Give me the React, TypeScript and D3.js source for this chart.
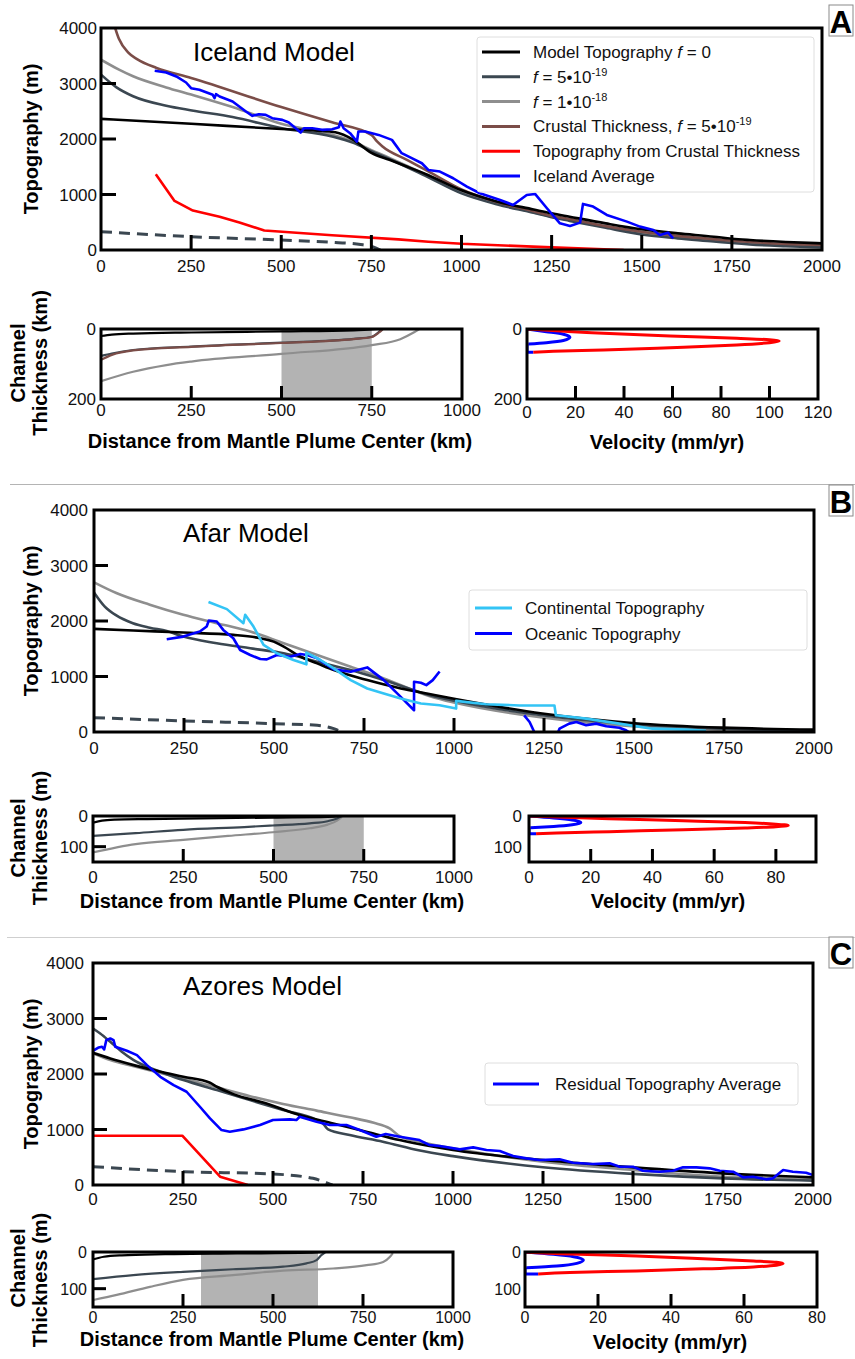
import React from 'react';
import * as d3 from 'd3';

type P = [number, number];

const FONT = "'Liberation Sans', Arial, Helvetica, sans-serif";
const C_BLACK = '#000000';
const C_SLATE = '#3b4751';
const C_GRAY = '#8e8e8e';
const C_BROWN = '#7b4d48';
const C_RED = '#ff0000';
const C_BLUE = '#0000ff';
const C_CYAN = '#33c4f5';

// ---------- shared ticks ----------
const topXTicks = [0, 250, 500, 750, 1000, 1250, 1500, 1750, 2000];
const topYTicks = [0, 1000, 2000, 3000, 4000];
const chanXTicks = [0, 250, 500, 750, 1000];

// ---------- Panel A : Iceland ----------
const iceF0: P[] = [[0, 2363], [250, 2275], [500, 2180], [600, 2150], [650, 2120], [700, 1985], [750, 1750], [800, 1625], [850, 1500], [900, 1370], [1000, 1075], [1100, 870], [1200, 730], [1250, 661], [1300, 600], [1400, 480], [1500, 373], [1600, 300], [1700, 240], [1750, 204], [1800, 180], [1900, 145], [2000, 120]];
const iceF5: P[] = [[0, 3160], [43, 2930], [89, 2770], [181, 2600], [252, 2515], [365, 2395], [502, 2195], [641, 2045], [700, 1930], [750, 1780], [800, 1640], [900, 1335], [1000, 1020], [1100, 820], [1200, 670], [1250, 590], [1300, 525], [1400, 400], [1500, 280], [1600, 210], [1700, 155], [1750, 125], [1800, 100], [1900, 70], [2000, 48]];
const iceF10: P[] = [[0, 3430], [50, 3250], [89, 3130], [181, 2930], [250, 2800], [365, 2575], [500, 2275], [641, 2075], [700, 1950], [750, 1800], [800, 1660], [900, 1360], [1000, 1035], [1100, 840], [1200, 680], [1250, 600], [1300, 540], [1400, 420], [1500, 305], [1600, 230], [1700, 170], [1750, 145], [1800, 125], [1900, 95], [2000, 72]];
const iceCrust: P[] = [[30, 4200], [50, 3800], [75, 3560], [100, 3440], [154, 3280], [250, 3100], [500, 2575], [641, 2300], [750, 2075], [765, 1960], [780, 1870], [850, 1620], [908, 1415], [1000, 1090], [1100, 860], [1200, 700], [1250, 615], [1300, 560], [1400, 430], [1500, 330], [1600, 255], [1700, 195], [1750, 168], [1800, 145], [1900, 110], [2000, 90]];
const iceCrustTopo: P[] = [[152, 1365], [204, 885], [255, 710], [329, 600], [384, 495], [453, 350], [641, 265], [825, 192], [908, 150], [1000, 112], [1250, 48], [1450, 0]];
const iceDashed: P[] = [[0, 330], [250, 240], [500, 180], [650, 135], [720, 100], [755, 55], [775, 0]];
const iceAverage: P[] = [[149, 3229], [181, 3199], [209, 3127], [236, 3018], [250, 2916], [273, 2886], [310, 2796], [315, 2736], [319, 2808], [329, 2766], [365, 2676], [402, 2495], [420, 2417], [438, 2447], [457, 2435], [475, 2375], [503, 2345], [521, 2297], [540, 2195], [554, 2117], [563, 2195], [586, 2195], [613, 2165], [641, 2177], [660, 2213], [664, 2315], [673, 2195], [691, 2105], [710, 1954], [714, 2135], [733, 2135], [770, 2074], [807, 1984], [834, 1744], [862, 1654], [890, 1563], [908, 1443], [940, 1413], [977, 1293], [1015, 1142], [1051, 1022], [1107, 902], [1143, 812], [1181, 992], [1204, 1010], [1237, 752], [1273, 481], [1301, 433], [1329, 493], [1337, 830], [1365, 782], [1403, 631], [1459, 511], [1495, 421], [1532, 361], [1550, 271], [1573, 313], [1587, 210]];

const iceChanF0: P[] = [[0, 20], [30, 16], [89, 13], [250, 10], [500, 7], [700, 4], [770, 0]];
const iceChanF5: P[] = [[0, 77], [30, 70], [89, 60], [250, 50], [500, 39], [700, 28], [750, 22], [768, 10], [777, 1]];
const iceChanCrust: P[] = [[0, 88], [30, 74], [89, 61], [250, 51], [500, 40], [700, 29], [750, 23], [770, 10], [780, 1]];
const iceChanF10: P[] = [[0, 149], [89, 122], [181, 103], [250, 93], [500, 71], [750, 46], [829, 29], [866, 10], [882, 0]];

const iceVelRed: P[] = [[0, 0], [31.5, 12.4], [59, 20], [86.5, 26.7], [100, 30.5], [104, 34], [100, 39], [86.5, 45.7], [59, 53.3], [31.5, 60], [10.9, 63.8], [2.6, 66.7]];
const iceVelBlue: P[] = [[0, 0], [8, 7.6], [15, 15], [17.7, 23.8], [15, 33], [8, 39], [0.6, 42.8]];
const iceVelBlueTail: P[] = [[0.6, 42.8], [0, 44], [0, 66.7], [2.6, 66.7]];

// ---------- Panel B : Afar ----------
const afarF0: P[] = [[0, 1858], [109, 1828], [248, 1792], [387, 1750], [462, 1690], [499, 1629], [527, 1540], [573, 1360], [620, 1237], [666, 1116], [759, 935], [852, 784], [935, 680], [1000, 600], [1245, 332], [1495, 163], [1745, 78], [2000, 42]];
const afarF5: P[] = [[0, 2516], [30, 2260], [62, 2100], [108, 1960], [155, 1880], [202, 1820], [248, 1719], [341, 1600], [434, 1508], [527, 1418], [620, 1267], [713, 1116], [805, 935], [935, 660], [1000, 565], [1245, 302], [1495, 139], [1745, 60], [2000, 30]];
const afarF10: P[] = [[0, 2697], [62, 2504], [155, 2293], [248, 2112], [341, 1961], [434, 1810], [527, 1599], [620, 1388], [713, 1176], [805, 965], [935, 640], [1000, 530], [1245, 260], [1495, 103], [1745, 42], [2000, 18]];
const afarContinental: P[] = [[318, 2341], [369, 2214], [415, 1961], [420, 2112], [443, 1900], [471, 1569], [508, 1418], [554, 1297], [590, 1219], [590, 1430], [629, 1297], [666, 1146], [713, 935], [759, 784], [805, 694], [852, 603], [908, 513], [960, 483], [1006, 422], [1006, 561], [1089, 501], [1182, 477], [1279, 477], [1283, 302], [1367, 241], [1459, 151], [1551, 60], [1644, 42], [1700, 20]];
const afarOceanic1: P[] = [[202, 1671], [248, 1719], [294, 1810], [313, 1900], [319, 2009], [341, 1991], [359, 1840], [387, 1689], [406, 1478], [434, 1388], [462, 1315], [480, 1309], [508, 1388], [545, 1357], [573, 1406], [592, 1388], [620, 1327], [666, 1128], [713, 1086], [759, 1164], [805, 935], [852, 633], [889, 392], [889, 905], [908, 887], [923, 845], [941, 935], [960, 1090]];
const afarOceanic2: P[] = [[1195, 300], [1210, 181], [1223, 0], [1240, -150], [1280, -150], [1293, 60], [1320, 151], [1340, 181], [1367, 121], [1395, 151], [1423, 103], [1459, 78], [1478, 30], [1490, -20]];
const afarDashed: P[] = [[0, 259], [248, 199], [499, 151], [620, 121], [666, 60], [690, 0]];

const afarChanF0: P[] = [[0, 22], [25, 15], [60, 12], [150, 10], [300, 8], [500, 5], [650, 3], [690, 0]];
const afarChanF5: P[] = [[0, 65], [118, 56], [250, 45], [419, 36], [498, 31], [600, 24], [650, 17], [676, 8], [688, 1]];
const afarChanF10: P[] = [[0, 119], [118, 92], [250, 78], [374, 65], [498, 53], [600, 40], [650, 28], [676, 15], [690, 2]];

const afarVelRed: P[] = [[0, 0], [26, 9], [50, 15.5], [70, 21.5], [80, 26.5], [84, 31], [80, 35], [70, 39], [50, 45], [26, 51], [9, 55.5], [2.3, 58]];
const afarVelBlue: P[] = [[0, 0], [8, 6.5], [14, 13], [16.8, 21], [14, 28.5], [8, 34], [0.5, 38]];
const afarVelBlueTail: P[] = [[0.5, 38], [0, 39], [0, 58], [2.3, 58]];

// ---------- Panel C : Azores ----------
const azF0: P[] = [[0, 2382], [48, 2280], [113, 2160], [187, 2040], [251, 1950], [325, 1842], [344, 1770], [390, 1638], [482, 1470], [574, 1260], [667, 1110], [759, 960], [852, 810], [935, 702], [1000, 630], [1250, 450], [1500, 318], [1750, 210], [2000, 138]];
const azF5: P[] = [[0, 2820], [20, 2730], [48, 2580], [80, 2400], [113, 2250], [150, 2130], [187, 2040], [251, 1890], [344, 1710], [436, 1530], [528, 1350], [621, 1170], [640, 1100], [653, 1002], [713, 900], [805, 780], [908, 620], [1000, 520], [1250, 320], [1500, 200], [1750, 120], [2000, 78]];
const azF10: P[] = [[0, 2370], [48, 2250], [113, 2140], [187, 2020], [251, 1920], [344, 1760], [436, 1600], [528, 1460], [621, 1340], [713, 1220], [780, 1120], [824, 1020], [852, 880], [908, 780], [1000, 660], [1250, 420], [1500, 270], [1750, 150], [2000, 102]];
const azCrustTopo: P[] = [[0, 888], [248, 888], [353, 150], [430, 0]];
const azDashed: P[] = [[0, 330], [251, 240], [500, 198], [611, 120], [653, 30], [665, 0]];
const azResidual: P[] = [[0, 2418], [16, 2478], [25, 2490], [31, 2442], [37, 2610], [48, 2640], [57, 2610], [62, 2490], [94, 2418], [122, 2340], [150, 2160], [187, 1950], [224, 1800], [260, 1680], [297, 1410], [325, 1200], [357, 990], [380, 960], [418, 1002], [464, 1080], [500, 1170], [547, 1182], [565, 1170], [574, 1230], [621, 1140], [658, 1080], [704, 1080], [741, 990], [787, 870], [813, 918], [852, 870], [907, 810], [935, 720], [963, 702], [1019, 642], [1056, 678], [1093, 630], [1130, 612], [1167, 522], [1204, 480], [1241, 450], [1296, 462], [1333, 402], [1389, 378], [1435, 390], [1463, 330], [1500, 330], [1528, 258], [1574, 240], [1611, 258], [1639, 318], [1676, 318], [1713, 300], [1741, 258], [1778, 240], [1806, 138], [1833, 150], [1870, 102], [1889, 120], [1917, 270], [1944, 240], [1981, 222], [2000, 180]];

const azChanF0: P[] = [[0, 20], [30, 13], [80, 9], [200, 6], [400, 4], [600, 2], [640, 0]];
const azChanF5: P[] = [[0, 74], [112, 63], [250, 54], [389, 47], [528, 40], [593, 31], [621, 22], [635, 8], [645, 1]];
const azChanF10: P[] = [[0, 131], [66, 117], [158, 95], [250, 76], [389, 63], [528, 51], [667, 45], [760, 36], [806, 27], [825, 13], [833, 3]];

const azVelRed: P[] = [[0, 0], [12.3, 5.5], [30.6, 10.9], [48.8, 18.2], [62.6, 24.5], [68.9, 28], [70.7, 31.6], [68.9, 36], [62.6, 40.6], [48.8, 46], [30.6, 51.5], [12.3, 56], [3.6, 59.7]];
const azVelBlue: P[] = [[0, 0], [7.8, 6.4], [13.3, 12.7], [16, 21.8], [14.2, 30.9], [8.7, 38.2], [0.5, 42.7]];
const azVelBlueTail: P[] = [[0.5, 42.7], [0, 43.5], [0, 59.7], [3.6, 59.7]];

// ---------- generic panel ----------
interface LineSpec {
  pts: P[];
  color: string;
  width?: number;
  dash?: string;
  curve?: d3.CurveFactory;
}

interface PanelProps {
  id: string;
  box: [number, number, number, number];
  xDomain: [number, number];
  yDomain: [number, number];
  xTickMarks: number[];
  xLabels: number[];
  yTickMarks: number[];
  yLabels: number[];
  xLabelBaseline: number;
  yLabelRight: number;
  tickLen: number;
  lines: LineSpec[];
  shade?: [number, number];
  labelSize?: number;
}

function Panel(p: PanelProps) {
  const [l, t, r, b] = p.box;
  const x = d3.scaleLinear().domain(p.xDomain).range([l, r]);
  const y = d3.scaleLinear().domain(p.yDomain).range([t, b]);
  const clip = `clip-${p.id}`;
  const fs = p.labelSize ?? 17;
  return (
    <g>
      <defs>
        <clipPath id={clip}>
          <rect x={l} y={t} width={r - l} height={b - t} />
        </clipPath>
      </defs>
      {p.shade && (
        <rect x={x(p.shade[0])} y={t} width={x(p.shade[1]) - x(p.shade[0])} height={b - t} fill="#b3b3b3" />
      )}
      <g clipPath={`url(#${clip})`}>
        {p.lines.map((s, i) => {
          const gen = d3
            .line<P>()
            .x((d) => x(d[0]))
            .y((d) => y(d[1]))
            .curve(s.curve ?? d3.curveLinear);
          return (
            <path
              key={i}
              d={gen(s.pts) ?? ''}
              fill="none"
              stroke={s.color}
              strokeWidth={s.width ?? 2.6}
              strokeDasharray={s.dash}
              strokeLinejoin="round"
            />
          );
        })}
      </g>
      {p.xTickMarks.map((v) => (
        <line key={'xt' + v} x1={x(v)} x2={x(v)} y1={b} y2={b - p.tickLen} stroke="#000" strokeWidth={3} />
      ))}
      {p.yTickMarks.map((v) => (
        <line key={'yt' + v} x1={l} x2={l + p.tickLen} y1={y(v)} y2={y(v)} stroke="#000" strokeWidth={3} />
      ))}
      <rect x={l} y={t} width={r - l} height={b - t} fill="none" stroke="#000" strokeWidth={3} />
      {p.xLabels.map((v) => (
        <text key={'xl' + v} x={x(v)} y={p.xLabelBaseline} textAnchor="middle" fontSize={fs} fontFamily={FONT} fill="#111">
          {v}
        </text>
      ))}
      {p.yLabels.map((v) => (
        <text key={'yl' + v} x={p.yLabelRight} y={y(v) + 6} textAnchor="end" fontSize={fs} fontFamily={FONT} fill="#111">
          {v}
        </text>
      ))}
    </g>
  );
}

function Sup({ children }: { children: React.ReactNode }) {
  return (
    <tspan dy={-7} fontSize={11}>
      {children}
    </tspan>
  );
}

interface LegendItem {
  color: string;
  label: React.ReactNode;
}

function Legend(props: {
  box: [number, number, number, number];
  items: LegendItem[];
  firstY: number;
  step: number;
  symX: [number, number];
  textX: number;
}) {
  const [l, t, r, b] = props.box;
  return (
    <g>
      <rect x={l} y={t} width={r - l} height={b - t} rx={3} fill="#fff" fillOpacity={0.85} stroke="#dedede" strokeWidth={1} />
      {props.items.map((it, i) => {
        const yy = props.firstY + i * props.step;
        return (
          <g key={i}>
            <line x1={props.symX[0]} x2={props.symX[1]} y1={yy} y2={yy} stroke={it.color} strokeWidth={3} />
            <text x={props.textX} y={yy + 6} fontSize={17} fontFamily={FONT} fill="#111">
              {it.label}
            </text>
          </g>
        );
      })}
    </g>
  );
}

function PanelTag({ letter, x, y }: { letter: string; x: number; y: number }) {
  return (
    <g>
      <rect x={x} y={y} width={24} height={31} fill="#fff" stroke="#8a8a8a" strokeWidth={1} />
      <text x={x + 12} y={y + 28} textAnchor="middle" fontSize={31} fontWeight="bold" fontFamily={FONT} fill="#000">
        {letter}
      </text>
    </g>
  );
}

function AxisTitle({ x, y, text, rotate }: { x: number; y: number; text: string; rotate?: boolean }) {
  return (
    <text
      x={0}
      y={0}
      transform={rotate ? `translate(${x},${y}) rotate(-90)` : `translate(${x},${y})`}
      textAnchor="middle"
      fontSize={20}
      fontWeight="bold"
      fontFamily={FONT}
      fill="#000"
    >
      {text}
    </text>
  );
}

const mono = d3.curveMonotoneX;
const monoY = d3.curveMonotoneY;

export default function App() {
  return (
    <svg
      width={855}
      height={1359}
      viewBox="0 0 855 1359"
      style={{ position: 'absolute', left: 0, top: 0, background: '#fff' }}
    >
      <rect x={0} y={0} width={855} height={1359} fill="#fff" />

      {/* ================= A ================= */}
      <Panel
        id="aTop"
        box={[101, 28, 822, 250]}
        xDomain={[0, 2000]}
        yDomain={[4000, 0]}
        xTickMarks={topXTicks.slice(1, -1)}
        xLabels={topXTicks}
        yTickMarks={[1000, 2000, 3000]}
        yLabels={topYTicks}
        xLabelBaseline={272}
        yLabelRight={97}
        tickLen={15}
        lines={[
          { pts: iceF10, color: C_GRAY, curve: mono },
          { pts: iceF5, color: C_SLATE, curve: mono },
          { pts: iceCrust, color: C_BROWN, curve: mono },
          { pts: iceF0, color: C_BLACK, curve: mono },
          { pts: iceCrustTopo, color: C_RED },
          { pts: iceDashed, color: C_SLATE, width: 3, dash: '11 7', curve: mono },
          { pts: iceAverage, color: C_BLUE },
        ]}
      />
      <text x={193} y={61} fontSize={26} fontFamily={FONT} fill="#000">Iceland Model</text>
      <Legend
        box={[477, 37, 814, 192]}
        firstY={52}
        step={24.8}
        symX={[482, 520]}
        textX={533}
        items={[
          { color: C_BLACK, label: <>{'Model Topography '}<tspan fontStyle="italic">f</tspan>{' = 0'}</> },
          { color: C_SLATE, label: <><tspan fontStyle="italic">f</tspan>{' = 5•10'}<Sup>-19</Sup></> },
          { color: C_GRAY, label: <><tspan fontStyle="italic">f</tspan>{' = 1•10'}<Sup>-18</Sup></> },
          { color: C_BROWN, label: <>{'Crustal Thickness, '}<tspan fontStyle="italic">f</tspan>{' = 5•10'}<Sup>-19</Sup></> },
          { color: C_RED, label: 'Topography from Crustal Thickness' },
          { color: C_BLUE, label: 'Iceland Average' },
        ]}
      />
      <AxisTitle x={38} y={139} text="Topography (m)" rotate />
      <PanelTag letter="A" x={829} y={5} />

      <Panel
        id="aChan"
        box={[101, 329, 462, 399]}
        xDomain={[0, 1000]}
        yDomain={[0, 200]}
        xTickMarks={[250, 500, 750]}
        xLabels={chanXTicks}
        yTickMarks={[]}
        yLabels={[0, 200]}
        xLabelBaseline={416}
        yLabelRight={96}
        tickLen={13}
        shade={[500, 750]}
        lines={[
          { pts: iceChanF10, color: C_GRAY, curve: mono, width: 2.2 },
          { pts: iceChanF5, color: C_SLATE, curve: mono, width: 2.2 },
          { pts: iceChanCrust, color: C_BROWN, curve: mono, width: 2.2 },
          { pts: iceChanF0, color: C_BLACK, curve: mono, width: 2.2 },
        ]}
      />
      <Panel
        id="aVel"
        box={[527, 329, 818, 399]}
        xDomain={[0, 120]}
        yDomain={[0, 200]}
        xTickMarks={[20, 40, 60, 80, 100]}
        xLabels={[0, 20, 40, 60, 80, 100, 120]}
        yTickMarks={[]}
        yLabels={[0, 200]}
        xLabelBaseline={418}
        yLabelRight={522}
        tickLen={13}
        lines={[
          { pts: iceVelBlue, color: C_BLUE, curve: monoY, width: 3 },
          { pts: iceVelBlueTail, color: C_BLUE, width: 3 },
          { pts: iceVelRed, color: C_RED, curve: monoY, width: 3 },
        ]}
      />
      <text transform="translate(25,363) rotate(-90)" textAnchor="middle" fontSize={20} fontWeight="bold" fontFamily={FONT}>Channel</text>
      <text transform="translate(47,363) rotate(-90)" textAnchor="middle" fontSize={20} fontWeight="bold" fontFamily={FONT}>Thickness (km)</text>
      <AxisTitle x={280} y={448} text="Distance from Mantle Plume Center (km)" />
      <AxisTitle x={667} y={449} text="Velocity (mm/yr)" />

      <line x1={10} x2={855} y1={484.5} y2={484.5} stroke="#b4b4b4" strokeWidth={1} />

      {/* ================= B ================= */}
      <Panel
        id="bTop"
        box={[94, 510, 814, 732]}
        xDomain={[0, 2000]}
        yDomain={[4000, 0]}
        xTickMarks={topXTicks.slice(1, -1)}
        xLabels={topXTicks}
        yTickMarks={[1000, 2000, 3000]}
        yLabels={topYTicks}
        xLabelBaseline={754}
        yLabelRight={88}
        tickLen={14}
        lines={[
          { pts: afarF10, color: C_GRAY, curve: mono },
          { pts: afarF5, color: C_SLATE, curve: mono },
          { pts: afarF0, color: C_BLACK, curve: mono },
          { pts: afarDashed, color: C_SLATE, width: 3, dash: '11 7', curve: mono },
          { pts: afarOceanic1, color: C_BLUE },
          { pts: afarOceanic2, color: C_BLUE },
          { pts: afarContinental, color: C_CYAN },
        ]}
      />
      <text x={183} y={542} fontSize={26} fontFamily={FONT} fill="#000">Afar Model</text>
      <Legend
        box={[469, 590, 807, 650]}
        firstY={608}
        step={25.5}
        symX={[475, 512]}
        textX={525}
        items={[
          { color: C_CYAN, label: 'Continental Topography' },
          { color: C_BLUE, label: 'Oceanic Topography' },
        ]}
      />
      <AxisTitle x={38} y={621} text="Topography (m)" rotate />
      <PanelTag letter="B" x={829} y={485} />

      <Panel
        id="bChan"
        box={[93, 816, 454, 862]}
        xDomain={[0, 1000]}
        yDomain={[0, 150]}
        xTickMarks={[250, 500, 750]}
        xLabels={chanXTicks}
        yTickMarks={[100]}
        yLabels={[0, 100]}
        xLabelBaseline={883}
        yLabelRight={88}
        tickLen={13}
        shade={[500, 750]}
        lines={[
          { pts: afarChanF10, color: C_GRAY, curve: mono, width: 2.2 },
          { pts: afarChanF5, color: C_SLATE, curve: mono, width: 2.2 },
          { pts: afarChanF0, color: C_BLACK, curve: mono, width: 2.2 },
        ]}
      />
      <Panel
        id="bVel"
        box={[529, 816, 816, 862]}
        xDomain={[0, 93]}
        yDomain={[0, 150]}
        xTickMarks={[20, 40, 60, 80]}
        xLabels={[0, 20, 40, 60, 80]}
        yTickMarks={[]}
        yLabels={[0, 100]}
        xLabelBaseline={883}
        yLabelRight={522}
        tickLen={13}
        lines={[
          { pts: afarVelBlue, color: C_BLUE, curve: monoY, width: 3 },
          { pts: afarVelBlueTail, color: C_BLUE, width: 3 },
          { pts: afarVelRed, color: C_RED, curve: monoY, width: 3 },
        ]}
      />
      <text transform="translate(25,838) rotate(-90)" textAnchor="middle" fontSize={20} fontWeight="bold" fontFamily={FONT}>Channel</text>
      <text transform="translate(47,838) rotate(-90)" textAnchor="middle" fontSize={20} fontWeight="bold" fontFamily={FONT}>Thickness (m)</text>
      <AxisTitle x={272} y={908} text="Distance from Mantle Plume Center (km)" />
      <AxisTitle x={668} y={908} text="Velocity (mm/yr)" />

      <line x1={7} x2={855} y1={937.5} y2={937.5} stroke="#cfcfcf" strokeWidth={1.2} />

      {/* ================= C ================= */}
      <Panel
        id="cTop"
        box={[93, 963, 813, 1185]}
        xDomain={[0, 2000]}
        yDomain={[4000, 0]}
        xTickMarks={topXTicks.slice(1, -1)}
        xLabels={topXTicks}
        yTickMarks={[1000, 2000, 3000]}
        yLabels={topYTicks}
        xLabelBaseline={1205}
        yLabelRight={84}
        tickLen={14}
        lines={[
          { pts: azF10, color: C_GRAY, curve: mono },
          { pts: azF5, color: C_SLATE, curve: mono },
          { pts: azF0, color: C_BLACK, curve: mono },
          { pts: azCrustTopo, color: C_RED },
          { pts: azDashed, color: C_SLATE, width: 3, dash: '11 7', curve: mono },
          { pts: azResidual, color: C_BLUE },
        ]}
      />
      <text x={183} y={995} fontSize={26} fontFamily={FONT} fill="#000">Azores Model</text>
      <Legend
        box={[485, 1063, 798, 1105]}
        firstY={1084}
        step={25}
        symX={[493, 539]}
        textX={555}
        items={[{ color: C_BLUE, label: 'Residual Topography Average' }]}
      />
      <AxisTitle x={38} y={1074} text="Topography (m)" rotate />
      <PanelTag letter="C" x={829} y={937} />

      <Panel
        id="cChan"
        box={[93, 1252, 453, 1307]}
        xDomain={[0, 1000]}
        yDomain={[0, 150]}
        xTickMarks={[250, 500, 750]}
        xLabels={chanXTicks}
        yTickMarks={[100]}
        yLabels={[0, 100]}
        xLabelBaseline={1323}
        yLabelRight={87}
        tickLen={13}
        labelSize={16}
        shade={[300, 625]}
        lines={[
          { pts: azChanF10, color: C_GRAY, curve: mono, width: 2.2 },
          { pts: azChanF5, color: C_SLATE, curve: mono, width: 2.2 },
          { pts: azChanF0, color: C_BLACK, curve: mono, width: 2.2 },
        ]}
      />
      <Panel
        id="cVel"
        box={[525, 1252, 817, 1307]}
        xDomain={[0, 80]}
        yDomain={[0, 150]}
        xTickMarks={[20, 40, 60]}
        xLabels={[0, 20, 40, 60, 80]}
        yTickMarks={[]}
        yLabels={[0, 100]}
        xLabelBaseline={1323}
        yLabelRight={521}
        tickLen={13}
        labelSize={16}
        lines={[
          { pts: azVelBlue, color: C_BLUE, curve: monoY, width: 3 },
          { pts: azVelBlueTail, color: C_BLUE, width: 3 },
          { pts: azVelRed, color: C_RED, curve: monoY, width: 3 },
        ]}
      />
      <text transform="translate(25,1268) rotate(-90)" textAnchor="middle" fontSize={20} fontWeight="bold" fontFamily={FONT}>Channel</text>
      <text transform="translate(47,1280) rotate(-90)" textAnchor="middle" fontSize={20} fontWeight="bold" fontFamily={FONT}>Thickness (m)</text>
      <AxisTitle x={272} y={1346} text="Distance from Mantle Plume Center (km)" />
      <AxisTitle x={670} y={1349} text="Velocity (mm/yr)" />
    </svg>
  );
}
